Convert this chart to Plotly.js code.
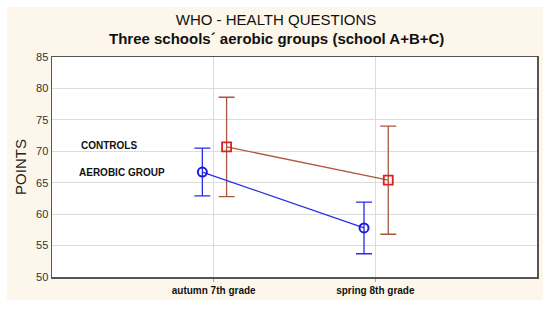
<!DOCTYPE html>
<html>
<head>
<meta charset="utf-8">
<script src="https://cdn.plot.ly/plotly-3.0.1.min.js"></script>
<style>html,body{margin:0;padding:0;background:#fff;}#chart{width:550px;height:313px;}</style>
</head>
<body>
<div id="chart"></div>
<script>
var categories = ["autumn 7th grade", "spring 8th grade"];
var aerobicMean = [66.7, 57.8];
var aerobicErr = [3.8, 4.1];
var controlsMean = [70.7, 65.4];
var controlsErr = [7.9, 8.6];
var yTicks = [50, 55, 60, 65, 70, 75, 80, 85];

var catIdx = categories.map(function (c, i) { return i; });
var aerobicX = catIdx.map(function (i) { return i - 0.07; });
var controlsX = catIdx.map(function (i) { return i + 0.08; });

var traces = [
  {
    x: controlsX, y: controlsMean, type: "scatter", mode: "lines+markers",
    name: "CONTROLS",
    line: { color: "#b0583e", width: 1.3 },
    marker: { symbol: "square-open", size: 9, color: "#e02020", line: { width: 1.8, color: "#e02020" } },
    error_y: { type: "data", array: controlsErr, visible: true, color: "#a8583e", thickness: 1.3, width: 8 }
  },
  {
    x: aerobicX, y: aerobicMean, type: "scatter", mode: "lines+markers",
    name: "AEROBIC GROUP",
    line: { color: "#2a2ae6", width: 1.3 },
    marker: { symbol: "circle-open", size: 9, color: "#1a1ae0", line: { width: 2, color: "#1a1ae0" } },
    error_y: { type: "data", array: aerobicErr, visible: true, color: "#2a2ae6", thickness: 1.3, width: 8 }
  }
];

var layout = {
  width: 550, height: 313,
  margin: { l: 52, r: 13, t: 57, b: 36 },
  paper_bgcolor: "#ffffff",
  plot_bgcolor: "#ffffff",
  showlegend: false,
  font: { family: "Arial, Liberation Sans, sans-serif", color: "#222" },
  title: {
    text: "WHO - HEALTH QUESTIONS",
    font: { size: 15, color: "#111" },
    x: 0.502, xref: "container", xanchor: "center",
    y: 0.936, yref: "container", yanchor: "middle"
  },
  xaxis: {
    range: [-1, 2],
    tickmode: "array", tickvals: catIdx, ticktext: categories,
    tickfont: { size: 10, color: "#111", family: "Arial, Liberation Sans, sans-serif", weight: "bold" },
    showgrid: true, gridcolor: "#dcdcdc", gridwidth: 1,
    zeroline: false,
    showline: true, linecolor: "#555", linewidth: 1.5, mirror: true,
    ticks: "outside", ticklen: 3, tickcolor: "#aaa",
    fixedrange: true
  },
  yaxis: {
    range: [50, 85],
    tickmode: "array", tickvals: yTicks,
    tickfont: { size: 11, color: "#333" },
    showgrid: true, gridcolor: "#dcdcdc", gridwidth: 1,
    zeroline: false,
    showline: true, linecolor: "#555", linewidth: 1.5, mirror: true,
    ticks: "",
    title: { text: "POINTS", font: { size: 15, color: "#222" }, standoff: 6 },
    automargin: false,
    fixedrange: true
  },
  shapes: [
    { type: "rect", xref: "paper", yref: "paper", layer: "below",
      x0: -0.093, x1: 1.0124, y0: -0.105, y1: 1.227,
      fillcolor: "#fcf7ea", line: { width: 0 } },
    { type: "rect", xref: "paper", yref: "paper", layer: "below",
      x0: 0, x1: 1, y0: 0, y1: 1,
      fillcolor: "#ffffff", line: { width: 0 } }
  ],
  annotations: [
    { text: "<b>Three schools´ aerobic groups (school A+B+C)</b>", xref: "paper", yref: "paper",
      x: 0.462, y: 1.086, xanchor: "center", yanchor: "middle", showarrow: false,
      font: { size: 15, color: "#111" } },
    { text: "<b>CONTROLS</b>", xref: "paper", yref: "y", x: 0.0557, y: 71.0,
      xanchor: "left", yanchor: "middle", showarrow: false, font: { size: 10, color: "#111" } },
    { text: "<b>AEROBIC GROUP</b>", xref: "paper", yref: "y", x: 0.0515, y: 66.7,
      xanchor: "left", yanchor: "middle", showarrow: false, font: { size: 10, color: "#111" } }
  ]
};

Plotly.newPlot("chart", traces, layout, { displayModeBar: false, staticPlot: true });
</script>
</body>
</html>
